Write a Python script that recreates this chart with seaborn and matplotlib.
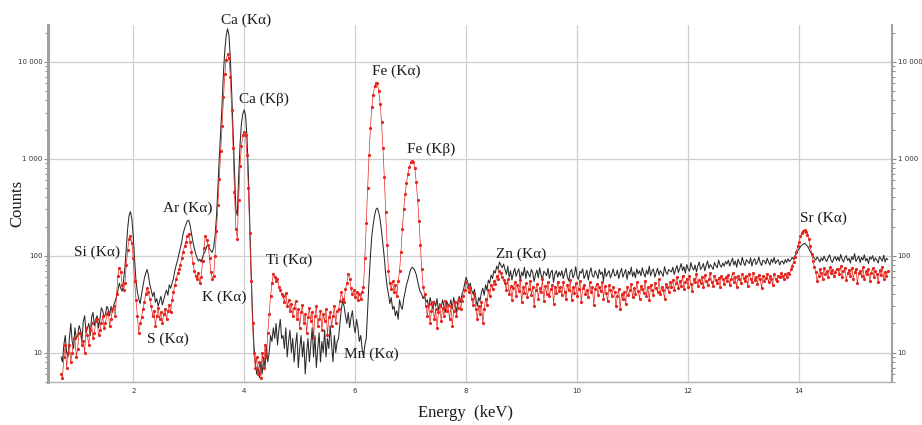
import numpy as np
import pandas as pd
import matplotlib
matplotlib.use('Agg')
import matplotlib.pyplot as plt
from matplotlib.ticker import FixedLocator, MultipleLocator, LogLocator, NullFormatter
import seaborn as sns

# spectrum 1 (black line), 0.025 keV channels, one row per keV starting at 0.70 keV
black_counts = [
    9, 8, 12, 15, 10, 9, 14, 20, 13, 11, 18, 14, 15, 19, 17, 13, 21, 24, 16, 18,
    20, 15, 23, 26, 19, 22, 24, 18, 22, 29, 27, 23, 25, 30, 28, 24, 30, 26, 31, 34,
    38, 44, 52, 46, 43, 55, 75, 120, 190, 260, 285, 240, 160, 90, 55, 42, 36, 32, 40, 48,
    58, 66, 72, 62, 50, 44, 38, 42, 33, 36, 30, 34, 38, 31, 35, 40, 44, 39, 50, 46,
    52, 58, 70, 80, 90, 105, 120, 140, 170, 190, 210, 228, 232, 205, 170, 140, 120, 105, 95, 88,
    92, 86, 97, 105, 112, 125, 128, 118, 112, 108, 122, 160, 250, 480, 1000, 1900, 3500, 7500, 13000, 18500,
    22000, 19000, 11000, 4800, 1900, 700, 300, 260, 650, 1400, 2300, 2900, 3200, 2800, 1700, 700, 220, 70, 25, 12,
    8, 6, 7, 5.5, 8, 6, 9, 7, 12, 8, 10, 15, 13, 18, 14, 20, 12, 17, 22, 14,
    15, 11, 18, 9, 13, 17, 10, 14, 8, 12, 16, 7, 11, 15, 9, 13, 6, 10, 14, 8,
    12, 18, 9, 15, 7, 11, 16, 8, 13, 10, 17, 9, 14, 11, 19, 12, 8, 15, 10, 13,
    14, 20, 28, 34, 30, 24, 20, 26, 18, 23, 27, 19, 16, 22, 18, 13, 15, 11, 9, 12,
    14, 28, 55, 100, 160, 210, 260, 300, 310, 280, 235, 180, 130, 95, 65, 48, 40, 32, 37, 28,
    30, 24, 27, 22, 35, 30, 28, 36, 42, 50, 56, 64, 72, 76, 74, 70, 64, 55, 47, 42,
    40, 36, 39, 33, 35, 29, 37, 32, 28, 34, 30, 36, 27, 32, 29, 35, 30, 26, 34, 31,
    30, 35, 28, 37, 31, 26, 34, 38, 33, 40, 44, 52, 60, 54, 48, 52, 44, 40, 45, 36,
    30, 37, 34, 42, 46, 39, 50, 44, 56, 52, 63, 58, 70, 66, 78, 72, 86, 80, 75, 82,
    72, 64, 78, 60, 70, 56, 66, 74, 61, 68, 73, 55, 68, 62, 76, 58, 70, 65, 60, 72,
    67, 54, 64, 71, 59, 75, 63, 57, 69, 66, 62, 74, 58, 67, 71, 53, 65, 70, 60, 68,
    62, 70, 58, 66, 74, 60, 55, 68, 72, 59, 64, 77, 61, 57, 69, 66, 73, 58, 63, 71,
    56, 67, 75, 62, 60, 70, 65, 58, 72, 64, 68, 55, 74, 61, 66, 70, 59, 65, 73, 62,
    63, 71, 58, 67, 74, 60, 66, 72, 57, 69, 64, 76, 61, 68, 59, 73, 65, 70, 62, 75,
    66, 60, 71, 64, 78, 62, 69, 73, 60, 67, 74, 63, 70, 66, 61, 77, 68, 64, 72, 70,
    68, 76, 64, 72, 79, 67, 74, 83, 70, 77, 66, 81, 73, 69, 85, 75, 71, 80, 68, 78,
    86, 72, 76, 83, 70, 79, 88, 74, 81, 77, 72, 85, 79, 75, 90, 80, 76, 84, 78, 87,
    82, 90, 78, 86, 94, 80, 88, 76, 92, 84, 80, 96, 85, 79, 91, 87, 83, 95, 78, 89,
    93, 81, 86, 97, 84, 79, 90, 88, 82, 94, 86, 80, 92, 85, 96, 83, 88, 91, 80, 87,
    88, 82, 91, 85, 93, 87, 90, 96, 92, 100, 104, 112, 118, 124, 128, 132, 134, 130, 126, 118,
    110, 104, 98, 94, 90, 97, 92, 86, 95, 89, 99, 91, 87, 96, 102, 90, 85, 94, 98, 89,
    97, 88, 103, 92, 86, 95, 100, 89, 94, 84, 98, 91, 105, 87, 93, 99, 85, 96, 90, 102,
    88, 94, 83, 97, 92, 100, 87, 95, 90, 84, 98, 93, 88, 101, 86, 94, 91,
]

# spectrum 2 (red line with dots)
red_counts = [
    6, 5.5, 9, 12, 7, 10, 12, 8, 10, 14, 14, 9, 11, 16, 16, 12, 13, 10, 18, 15,
    12, 17, 20, 14, 16, 21, 22, 15, 17, 20, 24, 18, 20, 25, 26, 19, 22, 28, 30, 24,
    40, 62, 75, 68, 50, 44, 52, 80, 115, 148, 158, 135, 95, 55, 35, 24, 16, 20, 23, 28,
    33, 40, 46, 42, 36, 30, 24, 27, 19, 24, 29, 22, 26, 20, 25, 28, 22, 27, 31, 26,
    35, 42, 50, 58, 66, 72, 80, 95, 110, 126, 140, 160, 168, 140, 110, 85, 70, 62, 58, 66,
    52, 60, 88, 120, 160, 145, 128, 95, 68, 58, 62, 100, 180, 330, 620, 1200, 2200, 4300, 7500, 10500,
    12000, 11000, 7000, 3200, 1300, 450, 190, 150, 380, 850, 1350, 1750, 1900, 1750, 1100, 500, 170, 55, 20, 10,
    7, 9, 6, 8, 5.5, 10, 7, 12, 9, 16, 25, 38, 52, 64, 60, 55, 58, 48, 44, 40,
    38, 33, 41, 30, 35, 27, 32, 24, 29, 34, 22, 28, 18, 26, 31, 20, 25, 16, 23, 29,
    21, 26, 14, 24, 30, 19, 22, 27, 17, 25, 21, 28, 15, 23, 26, 19, 24, 30, 20, 27,
    28, 34, 42, 36, 33, 45, 52, 64, 58, 46, 40, 44, 37, 42, 35, 40, 36, 42, 48, 95,
    220, 500, 1100, 2100, 3400, 4600, 5600, 6100, 6000, 5000, 3700, 2400, 1300, 650, 280, 130, 70, 52, 45, 55,
    42, 50, 38, 55, 70, 110, 190, 300, 430, 560, 700, 820, 920, 960, 930, 800, 580, 380, 230, 130,
    72, 48, 40, 30, 24, 32, 20, 27, 33, 22, 28, 18, 26, 31, 21, 29, 24, 34, 27, 31,
    22, 30, 19, 27, 33, 24, 29, 36, 28, 34, 38, 44, 54, 48, 42, 46, 36, 31, 40, 28,
    22, 30, 25, 33, 20, 28, 36, 31, 44, 38, 50, 45, 55, 51, 62, 58, 70, 66, 60, 56,
    52, 44, 57, 40, 49, 35, 46, 54, 38, 50, 43, 56, 33, 47, 41, 52, 37, 45, 55, 39,
    48, 30, 44, 51, 36, 46, 42, 57, 34, 49, 40, 53, 38, 45, 50, 32, 47, 41, 54, 43,
    48, 39, 53, 42, 36, 50, 44, 56, 35, 47, 41, 52, 38, 45, 55, 33, 46, 50, 40, 44,
    37, 53, 42, 48, 31, 45, 51, 39, 47, 43, 54, 36, 49, 41, 34, 50, 44, 38, 47, 42,
    30, 38, 45, 28, 40, 36, 42, 32, 48, 39, 44, 51, 37, 46, 40, 53, 43, 36, 49, 45,
    41, 55, 38, 47, 35, 50, 44, 39, 52, 46, 42, 57, 40, 48, 44, 36, 51, 47, 42, 54,
    48, 56, 44, 52, 60, 46, 55, 49, 62, 45, 53, 58, 47, 61, 51, 43, 57, 54, 64, 49,
    56, 52, 60, 47, 63, 55, 50, 58, 66, 53, 49, 61, 56, 52, 59, 48, 62, 57, 51, 60,
    55, 63, 50, 58, 66, 54, 60, 47, 62, 57, 52, 65, 59, 55, 61, 49, 64, 58, 53, 67,
    56, 60, 51, 63, 58, 46, 62, 55, 59, 65, 53, 61, 57, 50, 64, 58, 55, 62, 60, 66,
    62, 57, 65, 60, 67, 64, 72, 78, 86, 96, 110, 125, 140, 158, 170, 178, 182, 175, 165, 148,
    125, 105, 88, 76, 68, 55, 62, 72, 66, 58, 74, 64, 70, 60, 76, 66, 71, 62, 68, 73,
    72, 64, 78, 60, 69, 74, 56, 67, 71, 62, 75, 58, 68, 73, 52, 66, 70, 61, 76, 57,
    69, 64, 72, 55, 67, 74, 60, 70, 65, 53, 71, 63, 76, 58, 68, 62, 70,
]

assert len(black_counts) == len(red_counts)
# channel energies (keV): regular detector grid starting at 0.70 keV
energy = np.round(0.70 + 0.025 * np.arange(len(black_counts)), 3)

peak_labels = ['Si (Kα)', 'S (Kα)', 'Ar (Kα)', 'K (Kα)', 'Ca (Kα)', 'Ca (Kβ)', 'Ti (Kα)',
               'Mn (Kα)', 'Fe (Kα)', 'Fe (Kβ)', 'Zn (Kα)', 'Sr (Kα)']
label_xy = [(1.355, 109), (2.625, 13.8), (2.977, 310), (3.634, 37.5), (4.03, 26900),
            (4.355, 4120), (4.805, 90), (6.283, 9.7), (6.733, 8020), (7.364, 1259),
            (8.986, 104), (14.445, 245)]

df = pd.DataFrame({'Energy': energy, 'black': black_counts, 'red': red_counts})

sns.set_style('white')
plt.rcParams['font.family'] = ['DejaVu Sans']

fig = plt.figure(figsize=(9.22, 4.25), dpi=100)
ax = fig.add_axes([0.0524, 0.1019, 0.9148, 0.839])

sns.lineplot(data=df, x='Energy', y='black', color='#2a2a2a', linewidth=0.75, ax=ax)
sns.lineplot(data=df, x='Energy', y='red', color='#e5261f', linewidth=0.5,
             marker='o', markersize=2.3, markeredgewidth=0, ax=ax)

ax.set_yscale('log')
ax.set_xlim(0.47, 15.67)
ax.set_ylim(5, 24000)

ax.xaxis.set_major_locator(MultipleLocator(2))
ax.xaxis.set_minor_locator(MultipleLocator(0.5))
ax.yaxis.set_major_locator(FixedLocator([10, 100, 1000, 10000]))
ax.set_yticklabels(['10', '100', '1 000', '10 000'])
ax.yaxis.set_minor_locator(LogLocator(base=10, subs=np.arange(2, 10)))
ax.yaxis.set_minor_formatter(NullFormatter())

ax.tick_params(axis='both', which='major', length=3, width=0.8, color='#888888',
               labelsize=5.0, labelcolor='#333333', pad=1.2)
ax.tick_params(axis='both', which='minor', length=2, width=0.7, color='#888888')
ax.tick_params(axis='y', which='both', left=True, right=True, labelleft=True, labelright=True)

ax.grid(True, which='major', color='#cfcfcf', linewidth=0.9)
ax.set_axisbelow(True)

ax.spines['top'].set_visible(False)
ax.spines['left'].set_color('#a0a0a0')
ax.spines['left'].set_linewidth(2.2)
ax.spines['right'].set_color('#a0a0a0')
ax.spines['right'].set_linewidth(1.5)
ax.spines['bottom'].set_color('#b0b0b0')
ax.spines['bottom'].set_linewidth(1.0)

ax.set_xlabel('')
ax.set_ylabel('')
serif = ['Liberation Serif', 'DejaVu Serif']
for lab, (lx, ly) in zip(peak_labels, label_xy):
    ax.text(lx, ly, lab, ha='center', va='center', fontsize=11, family=serif, color='#1a1a1a')

fig.text(465 / 922, 1 - 413 / 425, 'Energy  (keV)', ha='center', va='center',
         fontsize=12, family=serif, color='#1a1a1a')
fig.text(17 / 922, 1 - 203 / 425, 'Counts', ha='center', va='center', rotation=90,
         fontsize=12, family=serif, color='#1a1a1a')

fig.savefig('out.png', dpi=100)
